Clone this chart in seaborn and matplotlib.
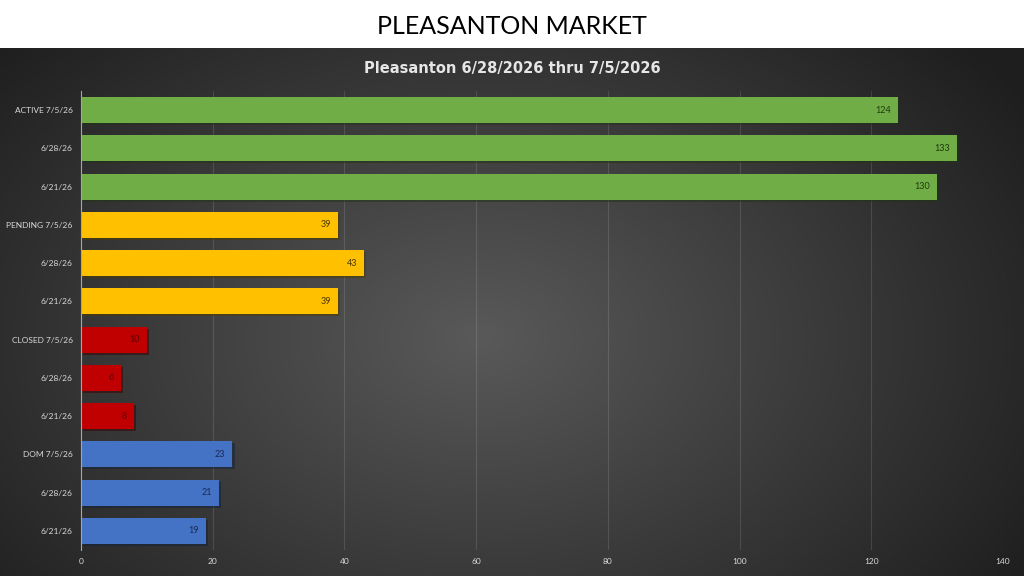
import numpy as np
import pandas as pd
import seaborn as sns
import matplotlib.pyplot as plt
import matplotlib.patheffects as pe

# --- data ---
labels = ["ACTIVE 7/5/26", "6/28/26", "6/21/26",
          "PENDING 7/5/26", "6/28/26", "6/21/26",
          "CLOSED 7/5/26", "6/28/26", "6/21/26",
          "DOM 7/5/26", "6/28/26", "6/21/26"]
values = [124, 133, 130, 39, 43, 39, 10, 6, 8, 23, 21, 19]
groups = ["Active"] * 3 + ["Pending"] * 3 + ["Closed"] * 3 + ["DOM"] * 3
x_ticks = [0, 20, 40, 60, 80, 100, 120, 140]

bar_colors = {"Active": "#70AD47", "Pending": "#FFC000",
              "Closed": "#C00000", "DOM": "#4472C4"}
text_colors = {"Active": "#1E3A0E", "Pending": "#4A3700",
               "Closed": "#5A0000", "DOM": "#1B2A55"}

# labels repeat, so bars are keyed by row position
df = pd.DataFrame({"row": range(len(labels)), "value": values, "group": groups})

sns.set_theme(style="dark")
plt.rcParams['font.family'] = ['Lato', 'DejaVu Sans']

fig = plt.figure(figsize=(10.24, 5.76), dpi=100)
fig.patch.set_facecolor("white")

# dark radial background below the white header band
top_frac = 1 - 48 / 576
bg = fig.add_axes([0, 0, 1, top_frac])
yy, xx = np.mgrid[0:528, 0:1024]
r = np.sqrt(((xx - 480) / 620.0) ** 2 + ((yy - 290) / 420.0) ** 2)
shade = np.clip(0.35 - 0.22 * r, 0.12, 0.35)
bg.imshow(np.dstack([shade] * 3), aspect="auto", extent=(0, 1, 0, 1))
bg.axis("off")

fig.text(0.5, 1 - 27 / 576, "PLEASANTON MARKET", ha="center", va="center",
         fontsize=18, color="black")
fig.text(0.5, 1 - 69 / 576, "Pleasanton 6/28/2026 thru 7/5/2026",
         ha="center", va="center", fontsize=10.5, fontweight="bold",
         color="#E6E6E6", fontfamily=["DejaVu Sans"])

ax = fig.add_axes([81 / 1024, 1 - 550 / 576, (1003 - 81) / 1024, (550 - 91) / 576])
ax.set_facecolor("none")

sns.barplot(data=df, x="value", y="row", hue="group", palette=bar_colors,
            dodge=False, width=0.68, orient="h", legend=False, ax=ax,
            saturation=1, edgecolor="none")

for patch in ax.patches:
    patch.set_path_effects([pe.SimplePatchShadow(offset=(1.5, -1.5), alpha=0.5),
                            pe.Normal()])

for patch in ax.patches:
    w = patch.get_width()
    if w <= 0:
        continue
    y = patch.get_y() + patch.get_height() / 2
    idx = int(round(y))
    ax.annotate(str(values[idx]), xy=(w, y), xytext=(-5, 0),
                textcoords="offset points", ha="right", va="center",
                fontsize=6.5, color=text_colors[groups[idx]])

ax.set_xlim(0, 140)
ax.set_ylim(11.5, -0.5)
ax.set_xticks(x_ticks)
ax.set_yticks(range(len(labels)))
ax.set_yticklabels(labels)
ax.set_xlabel("")
ax.set_ylabel("")
ax.tick_params(axis="both", length=0, colors="#D9D9D9", labelsize=6.0, pad=6)
ax.grid(axis="x", color="white", alpha=0.12, linewidth=0.8)
ax.grid(axis="y", visible=False)
for side in ["top", "right", "bottom"]:
    ax.spines[side].set_visible(False)
ax.spines["left"].set_color("#A6A6A6")
ax.spines["left"].set_linewidth(0.8)

fig.savefig("out.png", dpi=100)
